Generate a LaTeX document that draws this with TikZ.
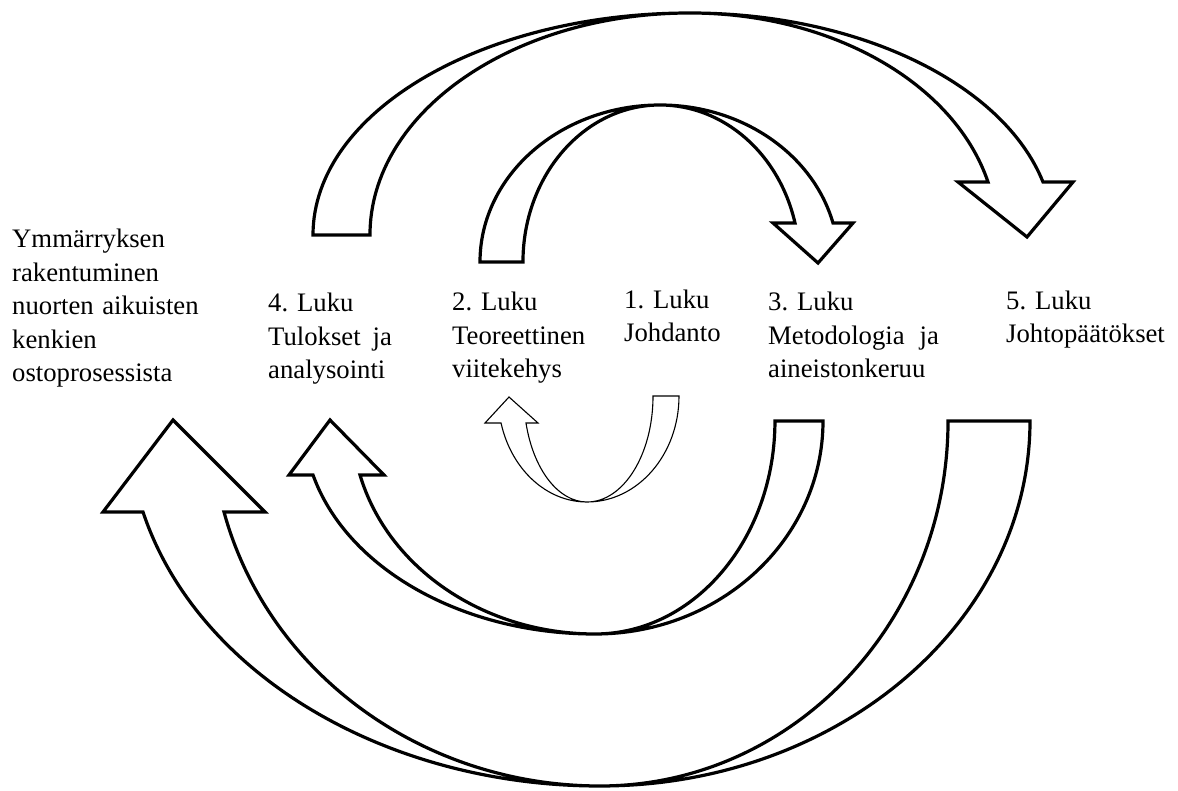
\documentclass[tikz,border=0pt]{standalone}
\usepackage{fontspec}
\setmainfont{Liberation Serif}
\begin{document}
\begin{tikzpicture}[x=1pt,y=-1pt,
  blockarrow/.style={draw=black, line width=3.2pt, fill=white, line join=miter},
  thinarrow/.style={draw=black, line width=1.1pt, fill=white, line join=miter},
  lbl/.style={anchor=base west, inner sep=0pt, align=left, font=\fontsize{26.7}{33.6}\selectfont}]
\useasboundingbox (0,0) rectangle (1178,791);

% big top arrow (4 -> 5)
\draw[blockarrow] (313,235)
  arc[start angle=180, end angle=90, x radius=377pt, y radius=222pt]
  arc[start angle=90, end angle=13.81, x radius=363.5pt, y radius=222pt]
  -- (1073,182) -- (1027,237) -- (958,182) -- (988,182)
  arc[start angle=13.81, end angle=90, x radius=306.9pt, y radius=222pt]
  arc[start angle=90, end angle=180, x radius=320pt, y radius=222pt]
  -- cycle;

% middle top arrow (2 -> 3)
\draw[blockarrow] (480,262)
  arc[start angle=180, end angle=90, x radius=180pt, y radius=157pt]
  arc[start angle=90, end angle=14.38, x radius=178.6pt, y radius=157pt]
  -- (853,223) -- (818,263) -- (773,223) -- (795,223)
  arc[start angle=14.38, end angle=90, x radius=139.4pt, y radius=157pt]
  arc[start angle=90, end angle=180, x radius=137pt, y radius=157pt]
  -- cycle;

% small bottom arrow (1 -> 2)
\draw[thinarrow] (679,396)
  arc[start angle=0, end angle=-90, x radius=92pt, y radius=106pt]
  arc[start angle=-90, end angle=-165.24, x radius=88.9pt, y radius=106pt]
  -- (485,423) -- (509,397) -- (538,423) -- (526,423)
  arc[start angle=-165.24, end angle=-90, x radius=63.1pt, y radius=106pt]
  arc[start angle=-90, end angle=0, x radius=66pt, y radius=106pt]
  -- cycle;

% middle bottom arrow (3 -> 4)
\draw[blockarrow] (823,421)
  arc[start angle=0, end angle=-90, x radius=228pt, y radius=213pt]
  arc[start angle=-90, end angle=-165.31, x radius=291.5pt, y radius=213pt]
  -- (289,475) -- (330,420) -- (384,475) -- (360,475)
  arc[start angle=-165.31, end angle=-90, x radius=242.9pt, y radius=213pt]
  arc[start angle=-90, end angle=0, x radius=180pt, y radius=213pt]
  -- cycle;

% big bottom arrow (5 -> result)
\draw[blockarrow] (1030,421)
  arc[start angle=0, end angle=-90, x radius=430pt, y radius=365pt]
  arc[start angle=-90, end angle=-165.56, x radius=471.9pt, y radius=365pt]
  -- (103,512) -- (173,420) -- (265,512) -- (224,512)
  arc[start angle=-165.56, end angle=-90, x radius=388.3pt, y radius=365pt]
  arc[start angle=-90, end angle=0, x radius=348pt, y radius=365pt]
  -- cycle;

% labels (anchored at the baseline of their last line)
\node[lbl] (res) at (12,382) {Ymmärryksen\\rakentuminen\\nuorten\hspace{8.5pt}aikuisten\\kenkien\\ostoprosessista};
\node[lbl] (l4) at (268,379) {4. Luku\\Tulokset\hspace{12pt}ja\\analysointi};
\node[lbl] (l2) at (452,378) {2. Luku\\Teoreettinen\\viitekehys};
\node[lbl] (l1) at (624,342) {1. Luku\\Johdanto};
\node[lbl] (l3) at (768,378) {3. Luku\\Metodologia\hspace{15pt}ja\\aineistonkeruu};
\node[lbl] (l5) at (1006,343) {5. Luku\\Johtopäätökset};
\end{tikzpicture}
\end{document}
